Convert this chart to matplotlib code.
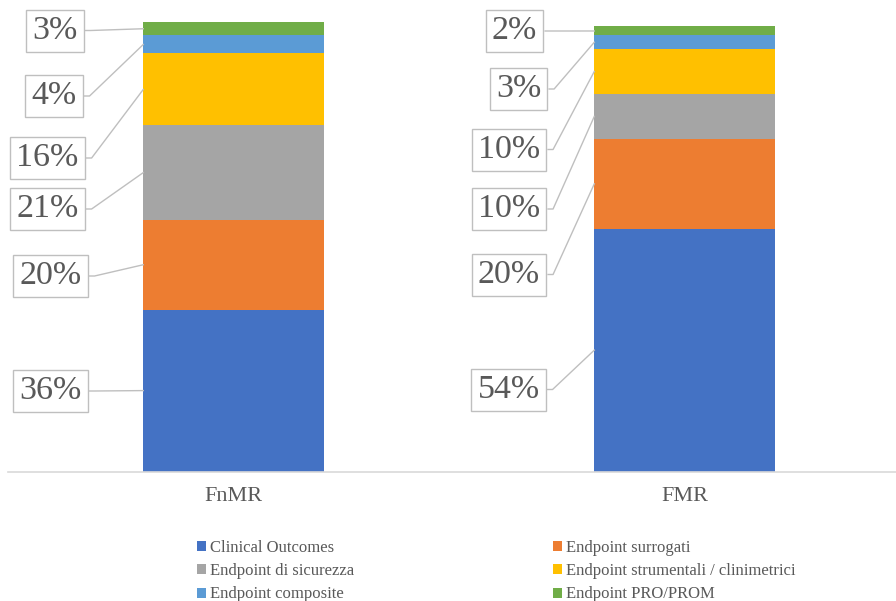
import matplotlib
matplotlib.use("Agg")
import matplotlib.pyplot as plt
from matplotlib.patches import Rectangle
from matplotlib.lines import Line2D
from matplotlib.transforms import IdentityTransform

# ---- data -------------------------------------------------------------
groups = ["FnMR", "FMR"]
series_names = [
    "Clinical Outcomes",
    "Endpoint surrogati",
    "Endpoint di sicurezza",
    "Endpoint strumentali / clinimetrici",
    "Endpoint composite",
    "Endpoint PRO/PROM",
]
clinical_outcomes = [36, 54]
endpoint_surrogati = [20, 20]
endpoint_sicurezza = [21, 10]
endpoint_strumentali = [16, 10]
endpoint_composite = [4, 3]
endpoint_pro_prom = [3, 2]

series_values = [
    clinical_outcomes,
    endpoint_surrogati,
    endpoint_sicurezza,
    endpoint_strumentali,
    endpoint_composite,
    endpoint_pro_prom,
]
colors = ["#4472C4", "#ED7D31", "#A5A5A5", "#FFC000", "#5B9BD5", "#70AD47"]

# ---- layout -----------------------------------------------------------
W, H = 896, 601
SERIF = "Liberation Serif"
TEXT_COLOR = "#595959"
BOX_COLOR = "#BFBFBF"

# centre of each callout box, in pixels from the top-left corner,
# listed bottom segment first for each group
callout_px = [
    [(50.5, 391), (50.5, 276), (47.5, 209), (47.5, 158), (54, 96), (55, 30.5)],
    [(508.5, 389.5), (509, 274.5), (509, 209), (509, 149.5), (518.5, 89), (514.5, 31)],
]

fig = plt.figure(figsize=(W / 100, H / 100), dpi=100)
fig.patch.set_facecolor("white")
ax = fig.add_axes([8 / W, 129.5 / H, 888 / W, 449.5 / H])
ax.set_xlim(-0.5, -0.5 + 888 / 451)
ax.set_ylim(0, 100)

x = list(range(len(groups)))
bar_width = 0.4
bottoms = [0.0] * len(groups)
anchors = [[] for _ in groups]  # (bar left edge, segment middle) per group
handles = []
for name, vals, col in zip(series_names, series_values, colors):
    bars = ax.bar(x, vals, bar_width, bottom=bottoms, color=col, label=name,
                  edgecolor="none", zorder=2)
    handles.append(bars)
    for i, (b, v) in enumerate(zip(bars, vals)):
        anchors[i].append((b.get_x(), bottoms[i] + v / 2, v))
    bottoms = [b + v for b, v in zip(bottoms, vals)]

for side in ("top", "right", "left"):
    ax.spines[side].set_visible(False)
ax.spines["bottom"].set_color("#D9D9D9")
ax.spines["bottom"].set_linewidth(1.2)
ax.set_yticks([])
ax.set_xticks(x)
ax.set_xticklabels(groups, fontsize=16, color=TEXT_COLOR, family=SERIF)
ax.tick_params(axis="x", length=0, pad=11)

# value callouts
texts = []
for gi, group_anchors in enumerate(anchors):
    for (bx, mid, v), (px, py) in zip(group_anchors, callout_px[gi]):
        t = fig.text(px / W, 1 - py / H, f"{v}%", ha="center", va="center",
                     fontsize=24.5, color=TEXT_COLOR, family=SERIF, zorder=5)
        texts.append((t, bx, mid, px, py))

fig.canvas.draw()
renderer = fig.canvas.get_renderer()
ident = IdentityTransform()
for t, bx, mid, px, py in texts:
    bb = t.get_window_extent(renderer)
    cx, cy = px, H - py
    w, h = bb.width + 12, 42
    fig.add_artist(Rectangle((cx - w / 2, cy - h / 2), w, h, transform=ident,
                             facecolor="white", edgecolor=BOX_COLOR, lw=1.0,
                             zorder=4))
    ax_pt = ax.transData.transform((bx, mid))
    x0 = cx + w / 2 + 2
    fig.add_artist(Line2D([x0, x0 + 5, ax_pt[0]], [cy, cy, ax_pt[1]],
                          transform=ident, color=BOX_COLOR, lw=1.0, zorder=3))

# legend, filled row by row
order = [0, 2, 4, 1, 3, 5]
fig.legend([handles[i] for i in order], [series_names[i] for i in order],
           ncol=2, loc="upper left", bbox_to_anchor=(197 / W, 1 - 539.5 / H),
           frameon=False, prop={"family": SERIF, "size": 12},
           labelcolor=TEXT_COLOR, handlelength=0.55, handleheight=0.55,
           handletextpad=0.25, columnspacing=11.9, labelspacing=0.45,
           borderpad=0, borderaxespad=0)

fig.savefig("out.png", dpi=100, facecolor="white")
